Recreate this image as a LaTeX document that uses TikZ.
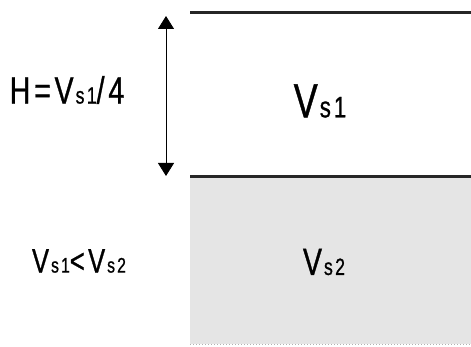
\documentclass[tikz,border=0pt]{standalone}
\usepackage{graphicx}
\usepackage{fontspec}
\setmainfont{Liberation Sans}[FakeStretch=0.75,LetterSpace=10,FakeBold=0.8]
\usepackage{tikz}
\usetikzlibrary{arrows.meta,positioning}
\tikzset{
  txt/.style={inner sep=0pt, anchor=center},
  bound/.style={line width=3pt, black!85},
  dimarr/.style={{Triangle[length=13pt,width=16pt]}-{Triangle[length=13pt,width=16pt]}, line width=0.8pt}
}
\newcommand{\vsub}[1]{V\kern2pt\scalebox{0.62}{s#1}}

\begin{document}
\begin{tikzpicture}[x=1pt, y=-1pt]
  \useasboundingbox (0,0) rectangle (471,347);

  % ── layers ─────────────────────────────────────────────────────────────────
  \fill[gray!20] (190,177) rectangle (471,344);
  \draw[gray!60, dotted, line width=1pt] (190,344) -- (471,344);
  \draw[bound] (190,13) -- (471,13);
  \draw[bound] (190,177) -- (471,177);

  % ── thickness arrow ───────────────────────────────────────────────────────
  \coordinate (atop) at (166,16);
  \coordinate (abot) at (166,176);
  \draw[dimarr] (atop) -- (abot);

  % ── labels ────────────────────────────────────────────────────────────────
  \node[txt, font=\fontsize{38}{38}\selectfont] (hval) at (67,90) {H=\vsub{1}/4};
  \node[txt, font=\fontsize{48}{48}\selectfont] (vs1) at (320,101) {\vsub{1}};
  \node[txt, font=\fontsize{38}{38}\selectfont] (vs2) at (324,262) {\vsub{2}};
  \node[txt, font=\fontsize{34}{34}\selectfont] (cmp) at (79,261) {\vsub{1}<\vsub{2}};

\end{tikzpicture}
\end{document}
